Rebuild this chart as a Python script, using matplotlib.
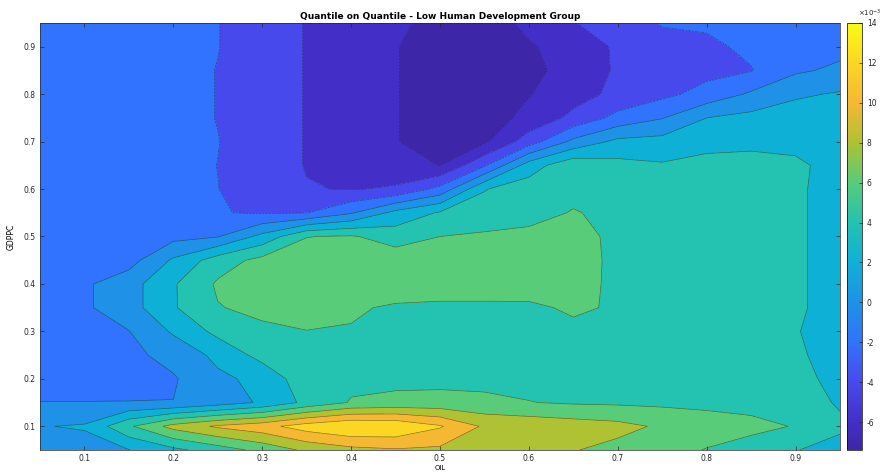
import numpy as np
import matplotlib
matplotlib.use("Agg")
import matplotlib.pyplot as plt
from matplotlib.colors import LinearSegmentedColormap, Normalize
from matplotlib.cm import ScalarMappable

plt.rcParams["axes.unicode_minus"] = False

# quantile grids (x = OIL quantile, y = GDPPC quantile)
oil_q = [0.05, 0.10, 0.15, 0.20, 0.25, 0.30, 0.35, 0.40, 0.45, 0.50,
         0.55, 0.60, 0.65, 0.70, 0.75, 0.80, 0.85, 0.90, 0.95]
gdppc_q = [0.05, 0.10, 0.15, 0.20, 0.25, 0.30, 0.35, 0.40, 0.45, 0.50,
           0.55, 0.60, 0.65, 0.70, 0.75, 0.80, 0.85, 0.90, 0.95]

# QQ coefficients (x 1e-3), one row per GDPPC quantile, bottom to top
qq_rows = [
    [0.6, 1.1, 1.95, 3.5, 5.0, 6.6, 8.4, 9.4, 9.8, 9.6, 9.0, 8.5, 8.1, 7.4, 6.8, 5.9, 5.2, 4.1, 3.0],
    [1.9, 2.2, 5.7, 8.7, 10.3, 11.3, 13.0, 14.0, 13.8, 12.2, 9.7, 9.4, 9.0, 8.6, 7.7, 7.0, 6.5, 5.9, 4.5],
    [0.03, 0.03, 0.03, 0.03, 1.0, 2.26, 4.5, 6.15, 6.5, 6.6, 6.4, 6.05, 5.8, 5.7, 5.6, 5.5, 5.4, 5.3, 3.7],
    [-0.8, -0.6, -0.4, -0.2, 1.6, 2.53, 5.3, 5.5, 5.5, 5.5, 5.5, 5.5, 5.4, 5.4, 5.3, 5.2, 5.0, 4.4, 3.6],
    [-0.8, -0.7, -0.5, 0.66, 2.49, 4.7, 5.3, 5.6, 5.7, 5.7, 5.7, 5.6, 5.5, 5.4, 5.3, 5.2, 5.0, 4.15, 3.6],
    [-0.7, -0.6, -0.05, 2.26, 4.56, 5.6, 5.98, 5.9, 5.8, 5.7, 5.6, 5.6, 5.7, 5.5, 5.4, 5.3, 5.1, 4.05, 3.6],
    [-0.6, -0.3, 1.16, 3.8, 5.9, 6.5, 6.4, 6.2, 5.8, 5.7, 5.7, 5.75, 6.2, 5.85, 5.5, 5.4, 5.2, 4.15, 3.6],
    [-0.6, -0.3, 1.16, 3.8, 6.27, 6.7, 6.8, 6.9, 6.9, 6.8, 6.8, 6.7, 6.5, 5.7, 5.5, 5.4, 5.2, 4.15, 3.6],
    [-0.8, -0.8, -0.8, 2.3, 5.0, 6.6, 6.9, 7.1, 7.1, 6.9, 7.0, 7.1, 7.1, 5.4, 5.4, 5.3, 5.1, 4.15, 3.6],
    [-0.8, -0.8, -0.8, -0.6, -0.1, 2.6, 5.95, 6.2, 5.1, 6.0, 6.3, 6.6, 6.9, 5.4, 5.3, 5.2, 5.0, 4.15, 3.6],
    [-0.9, -1.0, -1.1, -1.3, -1.9, -2.2, -2.05, -0.2, 2.6, 4.2, 4.8, 5.17, 6.15, 5.4, 5.3, 5.2, 5.0, 4.15, 3.6],
    [-1.0, -1.1, -1.2, -1.4, -1.97, -3.0, -3.9, -4.1, -3.8, -1.4, 3.9, 5.0, 5.3, 5.0, 4.8, 4.7, 4.6, 4.15, 3.6],
    [-1.0, -1.1, -1.2, -1.4, -2.02, -3.0, -4.1, -5.0, -5.0, -6.05, -2.3, 3.0, 5.5, 4.6, 4.2, 4.4, 4.3, 4.2, 3.6],
    [-1.0, -1.1, -1.2, -1.4, -1.95, -3.0, -4.1, -5.0, -5.9, -7.0, -6.3, -3.0, 0.5, 2.5, 2.7, 3.6, 3.8, 3.7, 3.6],
    [-1.0, -1.1, -1.2, -1.4, -2.05, -3.0, -4.1, -5.0, -5.9, -7.0, -7.0, -5.4, -3.5, -1.4, -0.1, 2.0, 2.6, 3.0, 3.0],
    [-1.0, -1.1, -1.2, -1.4, -2.05, -3.0, -4.1, -5.0, -5.9, -7.0, -7.4, -6.1, -4.8, -3.5, -2.5, -1.3, 0.3, 1.7, 2.2],
    [-1.0, -1.1, -1.2, -1.4, -2.05, -3.0, -4.1, -5.0, -5.9, -7.0, -7.4, -6.7, -5.0, -3.8, -3.0, -2.6, -2.1, -0.3, 0.4],
    [-1.0, -1.1, -1.2, -1.4, -1.95, -3.0, -4.1, -5.0, -5.9, -7.0, -7.4, -6.2, -5.2, -3.7, -3.0, -2.4, -1.6, -1.2, -0.6],
    [-1.0, -1.1, -1.2, -1.4, -1.95, -3.0, -4.1, -5.0, -5.5, -6.8, -7.0, -5.5, -4.05, -3.5, -1.8, -1.7, -1.3, -1.0, -0.8],
]

contour_levels = [-6, -4, -2, 0, 2, 4, 6, 8, 10, 12]
cbar_ticks = [-6, -4, -2, 0, 2, 4, 6, 8, 10, 12, 14]
tick_vals = [0.1, 0.2, 0.3, 0.4, 0.5, 0.6, 0.7, 0.8, 0.9]

# parula-like colormap
parula = LinearSegmentedColormap.from_list("parula", [
    (0.000, (0.242, 0.150, 0.660)),
    (0.065, (0.262, 0.185, 0.790)),
    (0.159, (0.282, 0.290, 0.930)),
    (0.252, (0.190, 0.450, 0.995)),
    (0.346, (0.120, 0.570, 0.900)),
    (0.439, (0.060, 0.690, 0.840)),
    (0.533, (0.140, 0.760, 0.690)),
    (0.626, (0.340, 0.800, 0.475)),
    (0.720, (0.680, 0.760, 0.200)),
    (0.813, (0.960, 0.720, 0.200)),
    (0.907, (0.985, 0.840, 0.140)),
    (1.000, (0.977, 0.984, 0.081)),
])

X, Y = np.meshgrid(oil_q, gdppc_q)
Z = np.array(qq_rows)
zmin, zmax = Z.min(), Z.max()
norm = Normalize(zmin, zmax)

fill_levels = [zmin] + contour_levels + [zmax]
fill_colors = [parula(norm(v)) for v in fill_levels[:-1]]

fig = plt.figure(figsize=(8.82, 4.73), dpi=100)
ax = fig.add_axes([40 / 882, 23 / 473, 800 / 882, 427 / 473])

ax.contourf(X, Y, Z, levels=fill_levels, colors=fill_colors)
ax.contour(X, Y, Z, levels=contour_levels, colors="#222222", linewidths=0.45, alpha=0.6)

ax.set_xlim(0.05, 0.95)
ax.set_ylim(0.05, 0.95)
ax.set_xticks(tick_vals)
ax.set_yticks(tick_vals)
ax.set_xticklabels([f"{v:.1f}" for v in tick_vals])
ax.set_yticklabels([f"{v:.1f}" for v in tick_vals])
ax.tick_params(direction="in", length=3, width=0.5, labelsize=5.5, colors="#262626",
               top=True, right=True, pad=3)
for s in ax.spines.values():
    s.set_linewidth(0.5)
    s.set_color("#262626")

ax.set_title("Quantile on Quantile - Low Human Development Group", fontsize=6.5,
             fontweight="bold", pad=3)
ax.set_xlabel("OIL", fontsize=5, labelpad=1)
ax.set_ylabel("GDPPC", fontsize=5.5, labelpad=6)

cax = fig.add_axes([847 / 882, 23 / 473, 15 / 882, 427 / 473])
sm = ScalarMappable(norm=norm, cmap=parula)
cb = fig.colorbar(sm, cax=cax, ticks=cbar_ticks)
cb.ax.tick_params(direction="in", length=2, width=0.5, labelsize=5.5, colors="#262626")
cb.outline.set_linewidth(0.5)
fig.text(858 / 882, 1 - 13 / 473, r"$\times10^{-3}$", fontsize=5, color="#262626",
         ha="left", va="center")

fig.savefig("out.png", dpi=100)
